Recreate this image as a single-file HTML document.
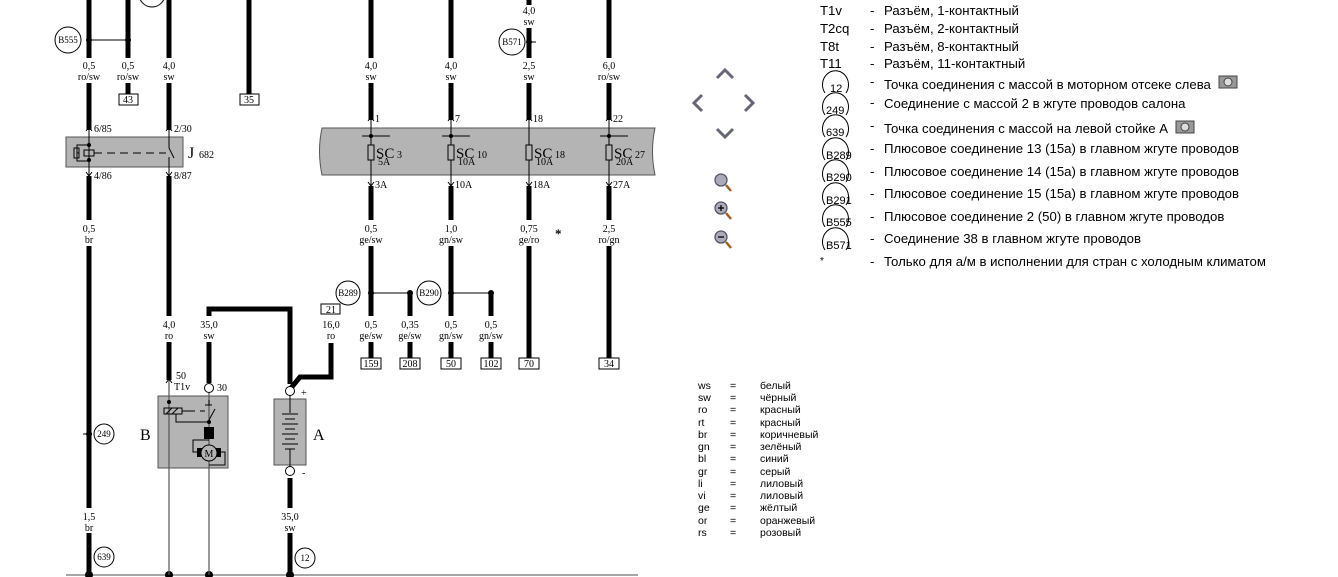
<!DOCTYPE html>
<html><head><meta charset="utf-8"><style>
html,body{margin:0;padding:0;background:#fff;width:1338px;height:577px;overflow:hidden}
svg{display:block}
.s{font-family:"Liberation Serif",serif;font-size:10px;fill:#000}
.l{font-family:"Liberation Sans",sans-serif;font-size:13.2px;fill:#000}
.c{font-family:"Liberation Sans",sans-serif;font-size:10.5px;fill:#000}
</style></head><body>
<svg width="1338" height="577" viewBox="0 0 1338 577" xmlns="http://www.w3.org/2000/svg">
<g stroke="#000" stroke-width="5" fill="none">
<line x1="89" y1="0" x2="89" y2="58"/><line x1="89" y1="83" x2="89" y2="130"/><line x1="89" y1="176" x2="89" y2="220"/><line x1="89" y1="246" x2="89" y2="508"/><line x1="89" y1="533" x2="89" y2="577"/>
<line x1="128" y1="0" x2="128" y2="58"/><line x1="128" y1="83" x2="128" y2="94"/>
<line x1="169" y1="0" x2="169" y2="58"/><line x1="169" y1="83" x2="169" y2="130"/><line x1="169" y1="176" x2="169" y2="316"/><line x1="169" y1="342" x2="169" y2="380"/>
<line x1="249" y1="0" x2="249" y2="94"/>
<line x1="371" y1="0" x2="371" y2="58"/><line x1="371" y1="83" x2="371" y2="120"/><line x1="371" y1="186" x2="371" y2="220"/><line x1="371" y1="246" x2="371" y2="316"/><line x1="371" y1="342" x2="371" y2="358"/>
<line x1="451" y1="0" x2="451" y2="58"/><line x1="451" y1="83" x2="451" y2="120"/><line x1="451" y1="186" x2="451" y2="220"/><line x1="451" y1="246" x2="451" y2="316"/><line x1="451" y1="342" x2="451" y2="358"/>
<line x1="529" y1="0" x2="529" y2="5"/><line x1="529" y1="28" x2="529" y2="58"/><line x1="529" y1="83" x2="529" y2="120"/><line x1="529" y1="186" x2="529" y2="220"/><line x1="529" y1="246" x2="529" y2="358"/>
<line x1="609" y1="0" x2="609" y2="58"/><line x1="609" y1="83" x2="609" y2="120"/><line x1="609" y1="186" x2="609" y2="220"/><line x1="609" y1="246" x2="609" y2="358"/>
<line x1="410" y1="293" x2="410" y2="316"/><line x1="410" y1="342" x2="410" y2="358"/>
<line x1="491" y1="293" x2="491" y2="316"/><line x1="491" y1="342" x2="491" y2="358"/>
<polyline points="209,316 209,309 290,309 290,384"/><line x1="209" y1="342" x2="209" y2="383"/>
<polyline points="331,343 331,377 300,377 291,388"/>
<line x1="290" y1="478" x2="290" y2="508"/><line x1="290" y1="533" x2="290" y2="577"/>
</g>
<g stroke="#000" stroke-width="1" fill="none">
<line x1="89" y1="40" x2="128" y2="40"/><line x1="371" y1="293" x2="410" y2="293"/><line x1="451" y1="293" x2="491" y2="293"/>
<line x1="529" y1="42" x2="536" y2="42"/><line x1="83" y1="434" x2="89" y2="434"/>
</g>
<g fill="#000"><circle cx="89" cy="40" r="3"/><circle cx="128" cy="40" r="3"/><circle cx="371" cy="293" r="3"/><circle cx="410" cy="293" r="3"/><circle cx="451" cy="293" r="3"/><circle cx="491" cy="293" r="3"/><circle cx="529" cy="42" r="3"/><circle cx="89" cy="434" r="3"/></g>
<line x1="66" y1="575" x2="638" y2="575" stroke="#888" stroke-width="1.5"/>
<g fill="#000"><circle cx="89" cy="575" r="4"/><circle cx="169" cy="575" r="4"/><circle cx="209" cy="575" r="4"/><circle cx="290" cy="575" r="4"/></g>
<g fill="#fff" stroke="#000" stroke-width="1">
<circle cx="68" cy="40" r="13"/><circle cx="152" cy="-6" r="13"/><circle cx="512" cy="42" r="13"/><circle cx="348" cy="293" r="12"/><circle cx="429" cy="293" r="12"/>
<circle cx="104" cy="434" r="10"/><circle cx="104" cy="557" r="10"/><circle cx="305" cy="558" r="10"/>
</g>
<g class="s" text-anchor="middle" style="font-size:9px">
<text x="68" y="43">B555</text><text x="512" y="45">B571</text><text x="348" y="296">B289</text><text x="429" y="296">B290</text>
<text x="104" y="437">249</text><text x="104" y="560">639</text><text x="305" y="561">12</text>
</g>
<g class="s" text-anchor="middle">
<text x="89" y="69">0,5</text><text x="89" y="80">ro/sw</text>
<text x="128" y="69">0,5</text><text x="128" y="80">ro/sw</text>
<text x="169" y="69">4,0</text><text x="169" y="80">sw</text>
<text x="371" y="69">4,0</text><text x="371" y="80">sw</text>
<text x="451" y="69">4,0</text><text x="451" y="80">sw</text>
<text x="529" y="14">4,0</text><text x="529" y="25">sw</text>
<text x="529" y="69">2,5</text><text x="529" y="80">sw</text>
<text x="609" y="69">6,0</text><text x="609" y="80">ro/sw</text>
<text x="89" y="232">0,5</text><text x="89" y="243">br</text>
<text x="371" y="232">0,5</text><text x="371" y="243">ge/sw</text>
<text x="451" y="232">1,0</text><text x="451" y="243">gn/sw</text>
<text x="529" y="232">0,75</text><text x="529" y="243">ge/ro</text>
<text x="609" y="232">2,5</text><text x="609" y="243">ro/gn</text>
<text x="169" y="328">4,0</text><text x="169" y="339">ro</text>
<text x="209" y="328">35,0</text><text x="209" y="339">sw</text>
<text x="331" y="328">16,0</text><text x="331" y="339">ro</text>
<text x="371" y="328">0,5</text><text x="371" y="339">ge/sw</text>
<text x="410" y="328">0,35</text><text x="410" y="339">ge/sw</text>
<text x="451" y="328">0,5</text><text x="451" y="339">gn/sw</text>
<text x="491" y="328">0,5</text><text x="491" y="339">gn/sw</text>
<text x="89" y="520">1,5</text><text x="89" y="531">br</text>
<text x="290" y="520">35,0</text><text x="290" y="531">sw</text>
</g>
<text x="555" y="238" class="s" style="font-size:13px;font-weight:bold">*</text>
<g fill="#fff" stroke="#000" stroke-width="1">
<rect x="119" y="94" width="19" height="11"/><rect x="240" y="94" width="19" height="11"/><rect x="321" y="304" width="19" height="10"/>
<rect x="361" y="358" width="20" height="11"/><rect x="400" y="358" width="20" height="11"/><rect x="441" y="358" width="20" height="11"/><rect x="481" y="358" width="20" height="11"/><rect x="519" y="358" width="20" height="11"/><rect x="599" y="358" width="20" height="11"/>
</g>
<g class="s" text-anchor="middle">
<text x="128" y="103">43</text><text x="249" y="103">35</text><text x="331" y="313">21</text>
<text x="371" y="367">159</text><text x="410" y="367">208</text><text x="451" y="367">50</text><text x="491" y="367">102</text><text x="529" y="367">70</text><text x="609" y="367">34</text>
</g>
<rect x="66" y="137" width="117" height="30" fill="#b4b4b4" stroke="#555"/>
<g stroke="#000" stroke-width="1" fill="none">
<line x1="89" y1="128" x2="89" y2="176"/><line x1="169" y1="128" x2="169" y2="148"/><line x1="169" y1="157" x2="169" y2="176"/><line x1="169" y1="148" x2="174" y2="158"/>
<rect x="74" y="148" width="5" height="10"/><polyline points="79,153 77,153 77,145 89,145"/><polyline points="77,153 77,161 89,161"/>
<rect x="84" y="150" width="10" height="6"/>
<line x1="94" y1="153" x2="166" y2="153" stroke-dasharray="8,5"/>
<path d="M86,131 L89,127 L92,131"/><path d="M86,172 L89,176 L92,172"/>
<path d="M166,131 L169,127 L172,131"/><path d="M166,172 L169,176 L172,172"/>
</g>
<circle cx="89" cy="145" r="2" fill="#000"/><circle cx="89" cy="160" r="2" fill="#000"/>
<g class="s"><text x="94" y="132">6/85</text><text x="174" y="132">2/30</text><text x="94" y="179">4/86</text><text x="174" y="179">8/87</text>
<text x="188" y="158" style="font-size:16px">J</text><text x="199" y="158">682</text></g>
<path d="M322,128 L655,128 Q650,151 655,175 L322,175 Q317,151 322,128 Z" fill="#b4b4b4" stroke="#555"/>
<g stroke="#000" stroke-width="1" fill="none">
<line x1="371" y1="118" x2="371" y2="186"/><line x1="451" y1="118" x2="451" y2="186"/><line x1="529" y1="118" x2="529" y2="186"/><line x1="609" y1="118" x2="609" y2="186"/>
<line x1="362" y1="136" x2="390" y2="136"/><line x1="442" y1="136" x2="470" y2="136"/><line x1="600" y1="136" x2="628" y2="136"/>
<rect x="368" y="145" width="6" height="15" fill="#b4b4b4"/><rect x="448" y="145" width="6" height="15" fill="#b4b4b4"/><rect x="526" y="145" width="6" height="15" fill="#b4b4b4"/><rect x="606" y="145" width="6" height="15" fill="#b4b4b4"/>
<path d="M368,121 L371,117 L374,121"/><path d="M448,121 L451,117 L454,121"/><path d="M526,121 L529,117 L532,121"/><path d="M606,121 L609,117 L612,121"/>
<path d="M368,182 L371,186 L374,182"/><path d="M448,182 L451,186 L454,182"/><path d="M526,182 L529,186 L532,182"/><path d="M606,182 L609,186 L612,182"/>
</g>
<g fill="#000"><circle cx="371" cy="136" r="2"/><circle cx="451" cy="136" r="2"/><circle cx="609" cy="136" r="2"/></g>
<g class="s">
<text x="375" y="122">1</text><text x="455" y="122">7</text><text x="533" y="122">18</text><text x="613" y="122">22</text>
<text x="375" y="188">3A</text><text x="455" y="188">10A</text><text x="533" y="188">18A</text><text x="613" y="188">27A</text>
<text x="376" y="158" style="font-size:15px">SC</text><text x="397" y="158">3</text><text x="378" y="165">5A</text>
<text x="456" y="158" style="font-size:15px">SC</text><text x="477" y="158">10</text><text x="458" y="165">10A</text>
<text x="534" y="158" style="font-size:15px">SC</text><text x="555" y="158">18</text><text x="536" y="165">10A</text>
<text x="614" y="158" style="font-size:15px">SC</text><text x="635" y="158">27</text><text x="616" y="165">20A</text>
</g>
<rect x="158" y="396" width="70" height="72" fill="#b4b4b4" stroke="#555"/>
<g stroke="#555" stroke-width="1.2" fill="none">
<line x1="169" y1="380" x2="169" y2="575"/><line x1="209" y1="393" x2="209" y2="575"/>
</g>
<g stroke="#000" stroke-width="1" fill="none">
<path d="M166,383 L169,379 L172,383"/>
<rect x="164" y="408" width="18" height="6"/><line x1="166" y1="414" x2="172" y2="408"/><line x1="172" y1="414" x2="178" y2="408"/>
<line x1="182" y1="411" x2="195" y2="411"/><line x1="200" y1="411" x2="205" y2="411"/>
<polyline points="176,414 176,422 209,422"/>
<line x1="209" y1="400" x2="209" y2="405"/><line x1="205" y1="405" x2="212" y2="405"/><line x1="209" y1="420" x2="215" y2="409"/>
<polyline points="209,440 193,440 193,452 199,452"/><polyline points="219,452 225,452 225,465 209,465"/>
</g>
<circle cx="169" cy="402" r="2" fill="#000"/><circle cx="209" cy="422" r="2" fill="#000"/>
<rect x="204" y="427" width="10" height="12" fill="#000"/>
<rect x="197" y="448" width="24" height="9" fill="#000"/>
<circle cx="209" cy="453" r="8" fill="#b4b4b4" stroke="#000"/>
<text x="209" y="457" class="s" text-anchor="middle" style="font-size:10px">M</text>
<circle cx="209" cy="388" r="4.5" fill="#fff" stroke="#000"/>
<g class="s"><text x="176" y="379">50</text><text x="174" y="390">T1v</text><text x="217" y="391">30</text>
<text x="140" y="440" style="font-size:16px">B</text><text x="313" y="440" style="font-size:16px">A</text>
<text x="301" y="396">+</text><text x="302" y="476">-</text></g>
<rect x="274" y="399" width="32" height="66" fill="#b4b4b4" stroke="#555"/>
<g stroke="#000" stroke-width="1">
<line x1="290" y1="395" x2="290" y2="413"/><line x1="290" y1="449" x2="290" y2="467"/>
<line x1="282" y1="414" x2="298" y2="414"/><line x1="285" y1="419" x2="295" y2="419"/>
<line x1="282" y1="424" x2="298" y2="424"/><line x1="285" y1="429" x2="295" y2="429"/>
<line x1="282" y1="434" x2="298" y2="434"/><line x1="285" y1="439" x2="295" y2="439"/>
<line x1="282" y1="444" x2="298" y2="444"/><line x1="285" y1="449" x2="295" y2="449"/>
</g>
<circle cx="290" cy="391" r="4.5" fill="#fff" stroke="#000"/><circle cx="290" cy="471" r="4.5" fill="#fff" stroke="#000"/>
<g stroke="#667" stroke-width="3" fill="none" stroke-linejoin="miter">
<polyline points="717,78 725,70 733,78"/><polyline points="717,129 725,137 733,129"/>
<polyline points="702,95 694,103 702,111"/><polyline points="745,95 753,103 745,111"/>
</g>
<g stroke="#556" stroke-width="1.3" fill="#aab">
<circle cx="721" cy="180" r="6"/><circle cx="721" cy="208" r="6"/><circle cx="721" cy="237" r="6"/>
</g>
<g stroke="#a06020" stroke-width="2.5"><line x1="726" y1="185" x2="731" y2="191"/><line x1="726" y1="213" x2="731" y2="219"/><line x1="726" y1="242" x2="731" y2="248"/></g>
<g stroke="#000" stroke-width="1.3"><line x1="718" y1="208" x2="724" y2="208"/><line x1="721" y1="205" x2="721" y2="211"/><line x1="718" y1="237" x2="724" y2="237"/></g>
<g class="l">
<text x="820" y="15">T1v</text><text x="870" y="15">-</text><text x="884" y="15">Разъём, 1-контактный</text>
<text x="820" y="33">T2cq</text><text x="870" y="33">-</text><text x="884" y="33">Разъём, 2-контактный</text>
<text x="820" y="51">T8t</text><text x="870" y="51">-</text><text x="884" y="51">Разъём, 8-контактный</text>
<text x="820" y="68">T11</text><text x="870" y="68">-</text><text x="884" y="68">Разъём, 11-контактный</text>
<text x="870" y="86">-</text><text x="884" y="89">Точка соединения с массой в моторном отсеке слева</text>
<text x="870" y="107">-</text><text x="884" y="108">Соединение с массой 2 в жгуте проводов салона</text>
<text x="870" y="130">-</text><text x="884" y="133">Точка соединения с массой на левой стойке A</text>
<text x="870" y="153">-</text><text x="884" y="153">Плюсовое соединение 13 (15а) в главном жгуте проводов</text>
<text x="870" y="176">-</text><text x="884" y="176">Плюсовое соединение 14 (15а) в главном жгуте проводов</text>
<text x="870" y="198">-</text><text x="884" y="198">Плюсовое соединение 15 (15а) в главном жгуте проводов</text>
<text x="870" y="221">-</text><text x="884" y="221">Плюсовое соединение 2 (50) в главном жгуте проводов</text>
<text x="870" y="243">-</text><text x="884" y="243">Соединение 38 в главном жгуте проводов</text>
<text x="820" y="264" style="font-size:10px">*</text><text x="870" y="266">-</text><text x="884" y="266">Только для а/м в исполнении для стран с холодным климатом</text>
</g>
<g fill="none" stroke="#000" stroke-width="1">
<path d="M825,93 A13,14 0 1 1 846,93"/><path d="M825,115 A13,14 0 1 1 846,115"/><path d="M825,137 A13,14 0 1 1 846,137"/>
<path d="M825,160 A13,14 0 1 1 846,160"/><path d="M825,182 A13,14 0 1 1 846,182"/><path d="M825,205 A13,14 0 1 1 846,205"/>
<path d="M825,227 A13,14 0 1 1 846,227"/><path d="M825,250 A13,14 0 1 1 846,250"/>
</g>
<g class="l" style="font-size:11px">
<text x="830" y="92">12</text><text x="826" y="114">249</text><text x="826" y="136">639</text><text x="826" y="159">B289</text><text x="826" y="181">B290</text><text x="826" y="204">B291</text><text x="826" y="226">B555</text><text x="826" y="249">B571</text>
</g>
<g fill="#999" stroke="#444"><rect x="1219" y="76" width="18" height="12"/><rect x="1176" y="121" width="18" height="12"/></g>
<g fill="#ddd" stroke="#444"><circle cx="1228" cy="82" r="4"/><circle cx="1185" cy="127" r="4"/></g>
<g class="c">
<text x="698" y="389">ws</text><text x="730" y="389">=</text><text x="760" y="389">белый</text>
<text x="698" y="401">sw</text><text x="730" y="401">=</text><text x="760" y="401">чёрный</text>
<text x="698" y="413">ro</text><text x="730" y="413">=</text><text x="760" y="413">красный</text>
<text x="698" y="426">rt</text><text x="730" y="426">=</text><text x="760" y="426">красный</text>
<text x="698" y="438">br</text><text x="730" y="438">=</text><text x="760" y="438">коричневый</text>
<text x="698" y="450">gn</text><text x="730" y="450">=</text><text x="760" y="450">зелёный</text>
<text x="698" y="462">bl</text><text x="730" y="462">=</text><text x="760" y="462">синий</text>
<text x="698" y="475">gr</text><text x="730" y="475">=</text><text x="760" y="475">серый</text>
<text x="698" y="487">li</text><text x="730" y="487">=</text><text x="760" y="487">лиловый</text>
<text x="698" y="499">vi</text><text x="730" y="499">=</text><text x="760" y="499">лиловый</text>
<text x="698" y="511">ge</text><text x="730" y="511">=</text><text x="760" y="511">жёлтый</text>
<text x="698" y="524">or</text><text x="730" y="524">=</text><text x="760" y="524">оранжевый</text>
<text x="698" y="536">rs</text><text x="730" y="536">=</text><text x="760" y="536">розовый</text>
</g>
</svg>
</body></html>
